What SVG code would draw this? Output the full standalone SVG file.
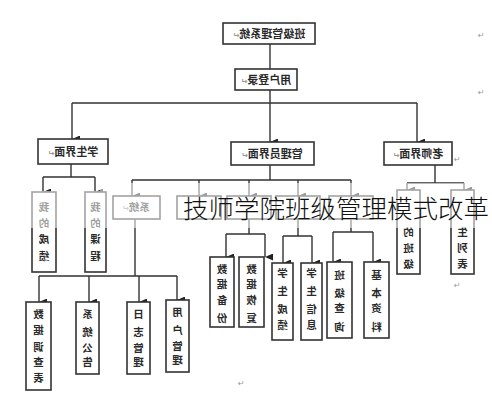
<svg xmlns="http://www.w3.org/2000/svg" width="492" height="400" viewBox="0 0 492 400">
<defs>
<marker id="ah" markerWidth="7" markerHeight="8" refX="3.5" refY="8" orient="auto-start-reverse" markerUnits="userSpaceOnUse" viewBox="0 0 7 8">
<path d="M0,0 L7,0 L3.5,8 Z" fill="#222"/>
</marker>
</defs>
<style>
.box{fill:#fff;stroke:#333;stroke-width:1.6}
.ln{fill:none;stroke:#333;stroke-width:1.4}
.ar{fill:none;stroke:#333;stroke-width:1.4;marker-end:url(#ah)}
.t{font-family:"Noto Sans CJK SC","Noto Sans CJK JP",sans-serif;font-size:10.5px;font-weight:bold;fill:#2a2a2a;text-anchor:middle}
.h{font-size:11px}
.pm{font-family:"DejaVu Sans",sans-serif;font-size:8px;fill:#999}
.title{font-family:"Noto Sans CJK SC","Noto Sans CJK JP",sans-serif;font-size:25.5px;fill:#111;font-weight:300}
</style>
<rect width="492" height="400" fill="#fff"/>
<g id="connectors">
<path class="ln" d="M270,44 V69"/>
<path class="ln" d="M270,90 V103 M72,103 H417"/>
<path class="ar" d="M72,103 V139"/>
<path class="ar" d="M270,103 V142"/>
<path class="ar" d="M417,103 V142"/>
<path class="ln" d="M71,164 V177 M43,177 H95"/>
<path class="ar" d="M43,177 V192"/>
<path class="ar" d="M95,177 V192"/>
<path class="ln" d="M270,165 V180 M132,180 H351"/>
<path class="ar" d="M132,180 V196"/>
<path class="ar" d="M199,180 V196"/>
<path class="ar" d="M249,180 V196"/>
<path class="ar" d="M298,180 V196"/>
<path class="ar" d="M351,180 V196"/>
<path class="ln" d="M135,219 V276 M39,276 H177"/>
<path class="ar" d="M39,276 V302"/>
<path class="ar" d="M89,276 V302"/>
<path class="ar" d="M139,276 V302"/>
<path class="ar" d="M177,276 V300"/>
<path class="ln" d="M249,219 V234 M226,234 H265"/>
<path class="ar" d="M226,234 V257"/>
<path class="ar" d="M265,234 V257"/>
<path class="ln" d="M298,219 V236 M283,236 H312"/>
<path class="ar" d="M283,236 V263"/>
<path class="ar" d="M312,236 V263"/>
<path class="ln" d="M351,219 V232 M333,232 H373"/>
<path class="ar" d="M333,232 V262"/>
<path class="ar" d="M373,232 V262"/>
<path class="ln" d="M435,165 V183 M407,183 H464"/>
<path class="ar" d="M407,183 V190"/>
<path class="ar" d="M464,183 V190"/>
</g>
<g id="n-root">
<rect class="box" x="223" y="23" width="92" height="21"/>
<text class="t h" x="269" y="38" transform="matrix(-1 0 0 1 538 0)">班级管理系统<tspan class="pm">↵</tspan></text>
</g>
<g id="n-login">
<rect class="box" x="235" y="69" width="62" height="21"/>
<text class="t h" x="266" y="84" transform="matrix(-1 0 0 1 532 0)">用户登录<tspan class="pm">↵</tspan></text>
</g>
<g id="n-student">
<rect class="box" x="38" y="139" width="70" height="25"/>
<text class="t h" x="73" y="156" transform="matrix(-1 0 0 1 146 0)">学生界面<tspan class="pm">↵</tspan></text>
</g>
<g id="n-admin">
<rect class="box" x="231" y="142" width="83" height="23"/>
<text class="t h" x="272" y="158" transform="matrix(-1 0 0 1 544 0)">管理员界面<tspan class="pm">↵</tspan></text>
</g>
<g id="n-teacher">
<rect class="box" x="384" y="142" width="68" height="23"/>
<text class="t h" x="418" y="158" transform="matrix(-1 0 0 1 836 0)">老师界面<tspan class="pm">↵</tspan></text>
</g>
<g id="n-myscore">
<rect class="box" x="32" y="192" width="24" height="80"/>
<text class="t" transform="matrix(-1 0 0 1 88 0)"><tspan x="44" y="211">我</tspan><tspan x="44" y="227">的</tspan><tspan x="44" y="243">成</tspan><tspan x="44" y="260">绩</tspan></text>
</g>
<g id="n-mycourse">
<rect class="box" x="85" y="192" width="21" height="80"/>
<text class="t" transform="matrix(-1 0 0 1 191 0)"><tspan x="95.5" y="211">我</tspan><tspan x="95.5" y="227">的</tspan><tspan x="95.5" y="243">课</tspan><tspan x="95.5" y="260">程</tspan></text>
</g>
<g id="n-system">
<rect class="box" x="113" y="196" width="47" height="23"/>
<text class="t" x="136" y="211" transform="matrix(-1 0 0 1 272 0)">系统<tspan class="pm">↵</tspan></text>
</g>
<g id="n-a2"><rect class="box" x="177" y="196" width="44" height="23"/></g>
<g id="n-a3"><rect class="box" x="227" y="196" width="44" height="23"/></g>
<g id="n-a4"><rect class="box" x="276" y="196" width="44" height="23"/></g>
<g id="n-a5"><rect class="box" x="329" y="196" width="44" height="23"/></g>
<g id="n-myclass">
<rect class="box" x="397" y="190" width="23" height="84"/>
<text class="t" transform="matrix(-1 0 0 1 817 0)"><tspan x="408.5" y="236">的</tspan><tspan x="408.5" y="252">班</tspan><tspan x="408.5" y="268">级</tspan></text>
</g>
<g id="n-stulist">
<rect class="box" x="451" y="190" width="23" height="84"/>
<text class="t" transform="matrix(-1 0 0 1 925 0)"><tspan x="462.5" y="236">生</tspan><tspan x="462.5" y="252">列</tspan><tspan x="462.5" y="268">表</tspan></text>
</g>
<g id="n-backup">
<rect class="box" x="210" y="257" width="24" height="70"/>
<text class="t" transform="matrix(-1 0 0 1 444 0)"><tspan x="222" y="273">数</tspan><tspan x="222" y="288">据</tspan><tspan x="222" y="304">备</tspan><tspan x="222" y="322">份</tspan></text>
</g>
<g id="n-restore">
<rect class="box" x="239" y="257" width="25" height="70"/>
<text class="t" transform="matrix(-1 0 0 1 503 0)"><tspan x="251.5" y="273">数</tspan><tspan x="251.5" y="288">据</tspan><tspan x="251.5" y="304">恢</tspan><tspan x="251.5" y="322">复</tspan></text>
</g>
<g id="n-stuscore">
<rect class="box" x="272" y="263" width="21" height="77"/>
<text class="t" transform="matrix(-1 0 0 1 565 0)"><tspan x="282.5" y="277">学</tspan><tspan x="282.5" y="295">生</tspan><tspan x="282.5" y="313">成</tspan><tspan x="282.5" y="329">绩</tspan></text>
</g>
<g id="n-stuinfo">
<rect class="box" x="301" y="263" width="21" height="77"/>
<text class="t" transform="matrix(-1 0 0 1 623 0)"><tspan x="311.5" y="277">学</tspan><tspan x="311.5" y="295">生</tspan><tspan x="311.5" y="313">信</tspan><tspan x="311.5" y="329">息</tspan></text>
</g>
<g id="n-query">
<rect class="box" x="327" y="262" width="25" height="76"/>
<text class="t" transform="matrix(-1 0 0 1 679 0)"><tspan x="339.5" y="279">班</tspan><tspan x="339.5" y="297">级</tspan><tspan x="339.5" y="312">查</tspan><tspan x="339.5" y="331">询</tspan></text>
</g>
<g id="n-basic">
<rect class="box" x="364" y="262" width="25" height="76"/>
<text class="t" transform="matrix(-1 0 0 1 753 0)"><tspan x="376.5" y="279">基</tspan><tspan x="376.5" y="297">本</tspan><tspan x="376.5" y="312">资</tspan><tspan x="376.5" y="331">料</tspan></text>
</g>
<g id="n-survey">
<rect class="box" x="26" y="302" width="25" height="88"/>
<text class="t" transform="matrix(-1 0 0 1 77 0)"><tspan x="38.5" y="318">数</tspan><tspan x="38.5" y="334">据</tspan><tspan x="38.5" y="351">调</tspan><tspan x="38.5" y="366">查</tspan><tspan x="38.5" y="382">表</tspan></text>
</g>
<g id="n-notice">
<rect class="box" x="76" y="302" width="23" height="72"/>
<text class="t" transform="matrix(-1 0 0 1 175 0)"><tspan x="87.5" y="318">系</tspan><tspan x="87.5" y="336">统</tspan><tspan x="87.5" y="352">公</tspan><tspan x="87.5" y="366">告</tspan></text>
</g>
<g id="n-log">
<rect class="box" x="127" y="302" width="23" height="72"/>
<text class="t" transform="matrix(-1 0 0 1 277 0)"><tspan x="138.5" y="318">日</tspan><tspan x="138.5" y="336">志</tspan><tspan x="138.5" y="352">管</tspan><tspan x="138.5" y="366">理</tspan></text>
</g>
<g id="n-user">
<rect class="box" x="166" y="300" width="23" height="72"/>
<text class="t" transform="matrix(-1 0 0 1 355 0)"><tspan x="177.5" y="316">用</tspan><tspan x="177.5" y="334">户</tspan><tspan x="177.5" y="350">管</tspan><tspan x="177.5" y="364">理</tspan></text>
</g>
<g id="marks">
<text class="pm" x="478" y="38">↵</text>
<text class="pm" x="478" y="95">↵</text>
<text class="pm" x="454" y="162">↵</text>
<text class="pm" x="454" y="288">↵</text>
<text class="pm" x="238" y="386">↵</text>
</g>
<path d="M0,191 H100 V183 H492 V228 H0 Z" fill="#fff" fill-opacity="0.55"/>
<text class="title" x="183" y="218">技师学院班级管理模式改革</text>
</svg>
